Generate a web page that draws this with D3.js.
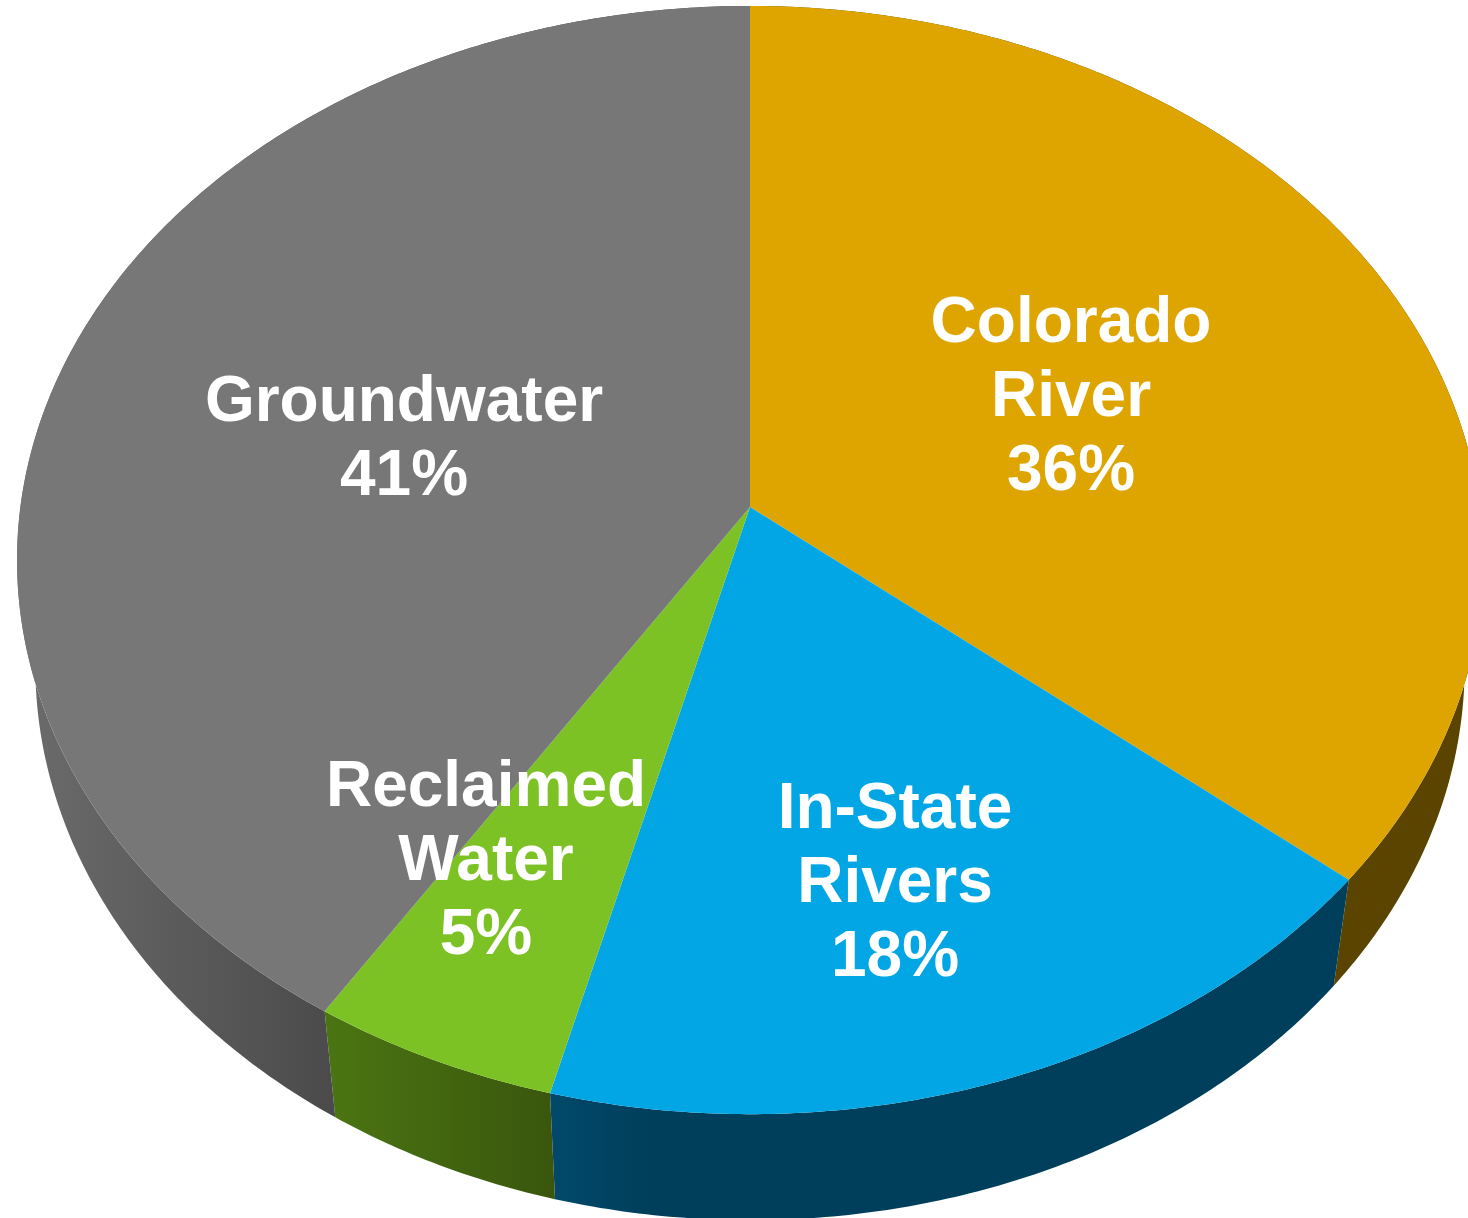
<!DOCTYPE html>
<html>
<head>
<meta charset="utf-8">
<script src="https://cdn.jsdelivr.net/npm/d3@7"></script>
<style>
  html, body { margin: 0; padding: 0; background: #fff; }
  svg { display: block; }
</style>
</head>
<body>
<div id="pie-chart"></div>
<script>
  // data, clockwise from 12 o'clock
  const sources = ["Colorado River", "In-State Rivers", "Reclaimed Water", "Groundwater"];
  const shares = [36, 18, 5, 41];
  const labelLines = [
    ["Colorado", "River", "36%"],
    ["In-State", "Rivers", "18%"],
    ["Reclaimed", "Water", "5%"],
    ["Groundwater", "41%"]
  ];

  const width = 1468;
  const height = 1218;

  // styling per slice
  const topColors = ["#dea500", "#03a6e5", "#7dc225", "#777777"];
  const wallColors = [
    ["#5b4300", "#5b4300"],
    ["#01486a", "#003f5b"],
    ["#4a7412", "#3a560d"],
    ["#6a6a6a", "#484848"]
  ];
  const wallRamp = [1, 0.12, 1, 0.45];
  const labelAnchors = [
    { x: 1071, y: 342 },
    { x: 895, y: 828 },
    { x: 486, y: 806 },
    { x: 404, y: 421 }
  ];

  // perspective view of the disc (apex is not at the ellipse centre)
  const apex = { x: 750, y: 507 };
  const tilt = 0.0958;
  const scaleX = 729.6;
  const scaleY = 549;
  const wallDepth = 106;
  const wallShrink = 0.975;

  function project(angle, bottom) {
    const w = 1 + tilt * Math.cos(angle);
    const x = scaleX * Math.sin(angle) / w;
    const y = -scaleY * Math.cos(angle) / w;
    return bottom
      ? [apex.x + x * wallShrink, apex.y + y + wallDepth]
      : [apex.x + x, apex.y + y];
  }

  function arcAngles(a0, a1) {
    const n = Math.ceil((a1 - a0) / 0.01);
    return d3.range(n + 1).map(i => a0 + (a1 - a0) * i / n);
  }

  const pie = d3.pie().sort(null).value(d => d);
  const slices = pie(shares);
  const line = d3.line();

  const svg = d3.select("#pie-chart")
    .append("svg")
    .attr("width", width)
    .attr("height", height)
    .attr("viewBox", `0 0 ${width} ${height}`);

  const defs = svg.append("defs");
  slices.forEach((d, i) => {
    const angles = arcAngles(d.startAngle, d.endAngle);
    const xs = angles.map(a => project(a, true)[0]);
    const g = defs.append("linearGradient")
      .attr("id", `wall-${i}`)
      .attr("gradientUnits", "userSpaceOnUse")
      .attr("x1", d3.min(xs)).attr("x2", d3.max(xs))
      .attr("y1", 0).attr("y2", 0);
    g.append("stop").attr("offset", 0).attr("stop-color", wallColors[i][0]);
    g.append("stop").attr("offset", wallRamp[i]).attr("stop-color", wallColors[i][1]);
  });

  // side walls first, the top surface covers whatever is behind it
  svg.append("g")
    .selectAll("path")
    .data(slices)
    .join("path")
    .attr("fill", (d, i) => `url(#wall-${i})`)
    .attr("d", d => {
      const angles = arcAngles(d.startAngle, d.endAngle);
      const upper = angles.map(a => project(a, false));
      const lower = angles.map(a => project(a, true)).reverse();
      return line(upper.concat(lower)) + "Z";
    });

  svg.append("g")
    .selectAll("path")
    .data(slices)
    .join("path")
    .attr("fill", (d, i) => topColors[i])
    .attr("d", d => {
      const rim = arcAngles(d.startAngle, d.endAngle).map(a => project(a, false));
      return line([[apex.x, apex.y]].concat(rim)) + "Z";
    });

  const labels = svg.append("g")
    .attr("font-family", "'Liberation Sans', Arial, sans-serif")
    .attr("font-weight", "bold")
    .attr("font-size", 64)
    .attr("fill", "#fff")
    .attr("text-anchor", "middle");

  sources.forEach((name, i) => {
    labels.append("text")
      .selectAll("tspan")
      .data(labelLines[i])
      .join("tspan")
      .attr("x", labelAnchors[i].x)
      .attr("y", (d, j) => labelAnchors[i].y + j * 74)
      .text(d => d);
  });
</script>
</body>
</html>
